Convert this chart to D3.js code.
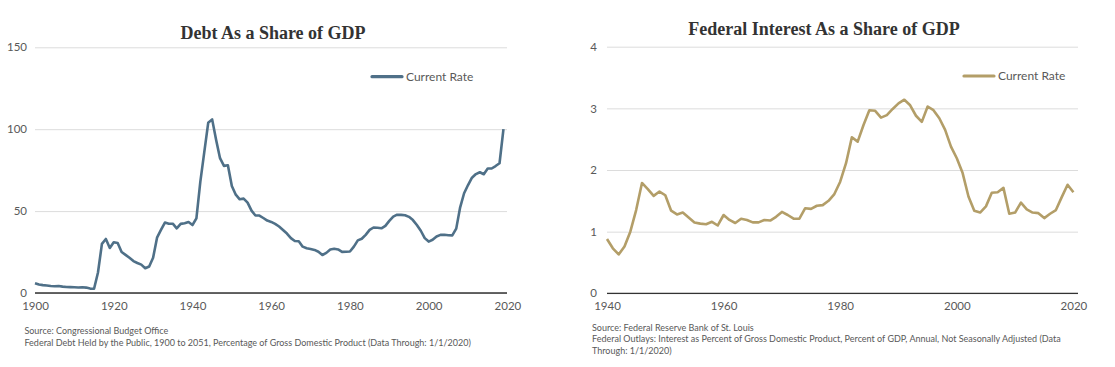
<!DOCTYPE html>
<html>
<head>
<meta charset="utf-8">
<script src="https://cdn.jsdelivr.net/npm/d3@7"></script>
<style>
  body { margin: 0; background: #fff; }
  svg text { font-family: Lato, "Open Sans", sans-serif; }
  .title { font-family: "Liberation Serif", "Times New Roman", serif !important; font-weight: bold; font-size: 18px; fill: #333; }
  .tick text { font-size: 11.5px; fill: #595959; }
  .legendText { font-size: 12px; fill: #595959; }
  .source { font-size: 9px; fill: #595959; }
</style>
</head>
<body>
<svg id="chart" width="1115" height="367"></svg>
<script>
// ---- Data: debt held by the public, % of GDP (one value per year from debtStartYear)
var debtStartYear = 1900;
var debtValues = [
  6.0, 5.2, 4.8, 4.6, 4.3, 4.1, 4.3, 3.9, 3.7, 3.6,       // 1900s
  3.5, 3.4, 3.5, 3.3, 2.7, 2.6, 12.5, 30, 33, 27.5,       // 1910s
  31, 30.5, 25, 23.3, 21.5, 19.5, 18.3, 17.3, 15.1, 16.2, // 1920s
  21.5, 33.8, 38.5, 43, 42.3, 42.3, 39.5, 42.2, 42.6, 43.3, // 1930s
  41.5, 45.6, 68, 86, 103.9, 106, 93.5, 82.3, 77.6, 78,  // 1940s
  65.3, 60, 57.2, 57.6, 55.2, 50.3, 47.3, 47.3, 45.8, 44.2, // 1950s
  43.4, 42.2, 40.6, 38.5, 36.3, 33.5, 31.7, 31.6, 28.3, 27.3, // 1960s
  26.9, 26.3, 25.2, 23.2, 24.5, 26.6, 27, 26.6, 25.1, 25.2, // 1970s
  25.3, 28.3, 32.1, 33.1, 35.5, 38.5, 40, 39.8, 39.5, 41, // 1980s
  44, 46.6, 47.8, 47.7, 47.5, 46.5, 44.5, 41.5, 38, 33.5, // 1990s
  31.4, 32.5, 34.5, 35.5, 35.6, 35.3, 35.2, 39.3, 52.3, 60.9, // 2000s
  65.9, 70.4, 72.6, 73.7, 72.5, 76, 76, 77.5, 79.2, 100   // 2010s
];
var debtTicksX = [1900, 1920, 1940, 1960, 1980, 2000, 2020];
var debtTicksY = [0, 50, 100, 150];

// ---- Data: federal interest outlays, % of GDP
var interestStartYear = 1940;
var interestValues = [
  0.88, 0.73, 0.63, 0.76, 1.00, 1.35, 1.79, 1.69, 1.58, 1.65, // 1940s
  1.59, 1.34, 1.28, 1.31, 1.23, 1.15, 1.13, 1.12, 1.16, 1.10, // 1950s
  1.27, 1.19, 1.14, 1.21, 1.19, 1.15, 1.15, 1.19, 1.18, 1.24, // 1960s
  1.32, 1.27, 1.21, 1.21, 1.38, 1.37, 1.42, 1.43, 1.50, 1.61, // 1970s
  1.81, 2.11, 2.53, 2.46, 2.73, 2.97, 2.96, 2.85, 2.89, 2.99, // 1980s
  3.08, 3.14, 3.05, 2.88, 2.78, 3.03, 2.97, 2.84, 2.65, 2.38, // 1990s
  2.19, 1.95, 1.57, 1.34, 1.31, 1.41, 1.63, 1.64, 1.71, 1.29, // 2000s
  1.31, 1.47, 1.36, 1.31, 1.30, 1.22, 1.29, 1.35, 1.56, 1.76, // 2010s
  1.64                                                        // 2020
];
var interestTicksX = [1940, 1960, 1980, 2000, 2020];
var interestTicksY = [0, 1, 2, 3, 4];

var legendLabel = "Current Rate";

var svg = d3.select("#chart");

function drawPanel(cfg) {
  var g = svg.append("g");

  var points = cfg.values.map(function(v, i) {
    return {year: cfg.startYear + i, value: v};
  });

  var xScale = d3.scaleLinear().domain(cfg.xDomain).range(cfg.xRange);
  var yScale = d3.scaleLinear().domain(cfg.yDomain).range(cfg.yRange);

  // gridlines + y labels
  var leftAxis = d3.axisLeft(yScale)
    .tickValues(cfg.ticksY)
    .tickFormat(d3.format("d"))
    .tickSize(-(cfg.gridX2 - cfg.gridX1))
    .tickPadding(cfg.yPad);
  var yAxisG = g.append("g")
    .attr("transform", "translate(" + cfg.gridX1 + ",0)")
    .call(leftAxis);
  yAxisG.select(".domain").remove();
  yAxisG.selectAll(".tick line").attr("stroke", "#dcdcdc").attr("stroke-width", 1);

  // x labels
  var bottomAxis = d3.axisBottom(xScale)
    .tickValues(cfg.ticksX)
    .tickFormat(d3.format("d"))
    .tickSize(0)
    .tickPadding(9);
  var xAxisG = g.append("g")
    .attr("transform", "translate(0," + yScale(0) + ")")
    .call(bottomAxis);
  xAxisG.select(".domain").remove();

  // baseline
  g.append("line")
    .attr("x1", cfg.gridX1).attr("x2", cfg.gridX2)
    .attr("y1", yScale(0)).attr("y2", yScale(0))
    .attr("stroke", "#333").attr("stroke-width", 1.3);

  // series line
  var line = d3.line()
    .x(d => xScale(d.year))
    .y(d => yScale(d.value));
  g.append("path")
    .datum(points)
    .attr("d", line)
    .attr("fill", "none")
    .attr("stroke", cfg.color)
    .attr("stroke-width", 2.6)
    .attr("stroke-linejoin", "round");

  // title
  g.append("text")
    .attr("class", "title")
    .attr("x", cfg.titleX).attr("y", cfg.titleY)
    .attr("text-anchor", "middle")
    .text(cfg.title);

  // legend
  g.append("line")
    .attr("x1", cfg.legendX).attr("x2", cfg.legendX + 30)
    .attr("y1", cfg.legendY).attr("y2", cfg.legendY)
    .attr("stroke", cfg.color).attr("stroke-width", 3.2)
    .attr("stroke-linecap", "round");
  g.append("text")
    .attr("class", "legendText")
    .attr("x", cfg.legendX + 34).attr("y", cfg.legendY + 4.2)
    .text(legendLabel);

  // source notes
  cfg.source.forEach(function(s, i) {
    g.append("text")
      .attr("class", "source")
      .attr("x", cfg.sourceX)
      .attr("y", cfg.sourceY + i * cfg.sourceStep)
      .text(s);
  });
}

drawPanel({
  title: "Debt As a Share of GDP",
  startYear: debtStartYear, values: debtValues,
  ticksX: debtTicksX, ticksY: debtTicksY,
  xDomain: [1900, 2020], xRange: [35, 507.4],
  yDomain: [0, 150], yRange: [293, 47.3],
  gridX1: 35, gridX2: 507, yPad: 8,
  color: "#4f7088",
  titleX: 273, titleY: 39,
  legendX: 372, legendY: 76.7,
  sourceX: 24.4, sourceY: 334, sourceStep: 11.5,
  source: [
    "Source: Congressional Budget Office",
    "Federal Debt Held by the Public, 1900 to 2051, Percentage of Gross Domestic Product (Data Through: 1/1/2020)"
  ]
});

drawPanel({
  title: "Federal Interest As a Share of GDP",
  startYear: interestStartYear, values: interestValues,
  ticksX: interestTicksX, ticksY: interestTicksY,
  xDomain: [1940, 2020], xRange: [607, 1073.4],
  yDomain: [0, 4], yRange: [293.3, 46.7],
  gridX1: 607, gridX2: 1078, yPad: 10,
  color: "#b39e68",
  titleX: 824, titleY: 35,
  legendX: 964, legendY: 76,
  sourceX: 592, sourceY: 330.5, sourceStep: 11.5,
  source: [
    "Source: Federal Reserve Bank of St. Louis",
    "Federal Outlays: Interest as Percent of Gross Domestic Product, Percent of GDP, Annual, Not Seasonally Adjusted (Data",
    "Through: 1/1/2020)"
  ]
});
</script>
</body>
</html>
